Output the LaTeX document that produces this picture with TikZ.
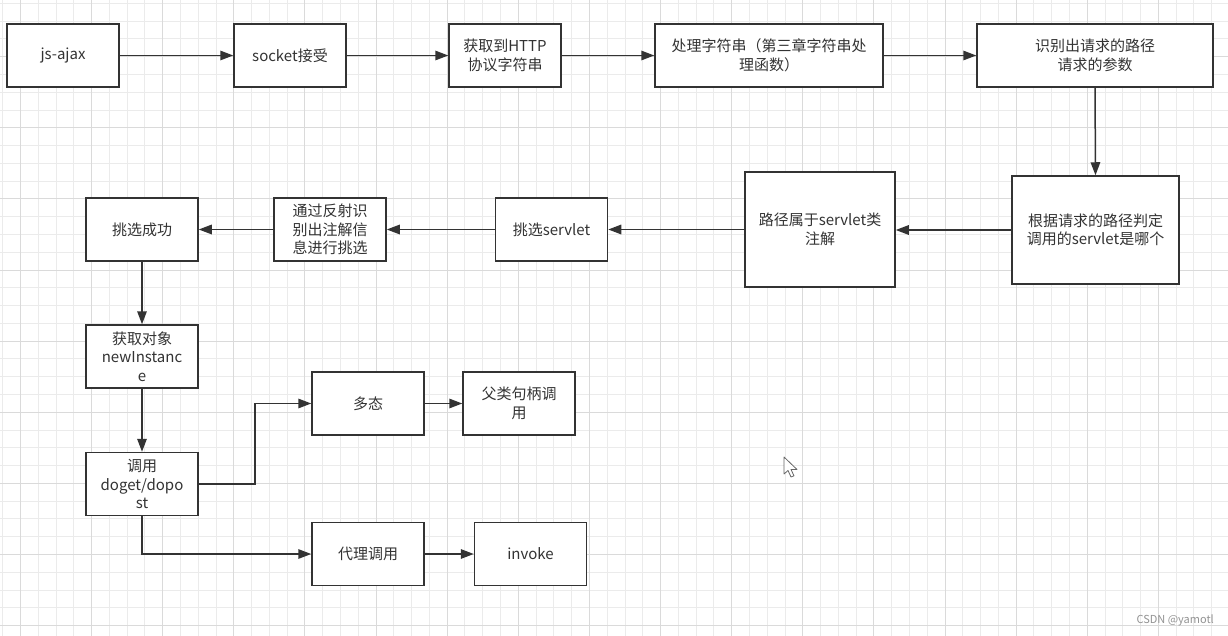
\documentclass[tikz,border=0pt]{standalone}
\usepackage{fontspec}
\setmainfont{Noto Sans CJK SC}
\usetikzlibrary{arrows.meta}
\definecolor{ink}{HTML}{333333}
\definecolor{gminor}{HTML}{EBEBEB}
\definecolor{gmajor}{HTML}{DADADA}
\tikzset{
  box/.style={draw=ink, line width=1.5pt, fill=white, text=ink, align=center,
    font=\fontsize{15}{18.5}\selectfont, inner sep=2pt},
  std/.style={box, minimum width=112pt, minimum height=63pt},
  conn/.style={draw=ink, line width=1.5pt, -{Triangle[length=13pt,width=9.5pt]}},
  minorline/.style={draw=gminor, line width=1pt},
  majorline/.style={draw=gmajor, line width=1pt}
}
\begin{document}
\begin{tikzpicture}[x=1pt,y=-1pt]
\useasboundingbox (0,0) rectangle (1228,636);
\fill[white] (0,0) rectangle (1228,636);
% grid
\foreach \k in {0,...,68}{
  \pgfmathsetmacro\xx{round(2.22+17.78*\k)+0.5}
  \draw[minorline] (\xx,0) -- (\xx,636);
}
\foreach \j in {0,...,35}{
  \pgfmathsetmacro\yy{round(2.88+17.78*\j)+0.5}
  \draw[minorline] (0,\yy) -- (1228,\yy);
}
\foreach \k in {1,5,...,65}{
  \pgfmathsetmacro\xx{round(2.22+17.78*\k)+0.5}
  \draw[majorline] (\xx,0) -- (\xx,636);
}
\foreach \j in {3,7,...,35}{
  \pgfmathsetmacro\yy{round(2.88+17.78*\j)+0.5}
  \draw[majorline] (0,\yy) -- (1228,\yy);
}
% nodes
\node[std] (n1) at (63,55.5) {js-ajax};
\node[std] (n2) at (290,55.5) {socket接受};
\node[std] (n3) at (505,55.5) {获取到HTTP\\协议字符串};
\node[box, minimum width=228pt, minimum height=63pt] (n4) at (769,55.5) {处理字符串（第三章字符串处\\理函数）};
\node[box, minimum width=236pt, minimum height=63pt] (n5) at (1095,55.5) {识别出请求的路径\\请求的参数};
\node[box, minimum width=167pt, minimum height=108pt] (n6) at (1095.5,230) {根据请求的路径判定\\调用的servlet是哪个};
\node[box, minimum width=150pt, minimum height=115pt] (n7) at (820,229.5) {路径属于servlet类\\注解};
\node[std] (n8) at (551.5,229.5) {挑选servlet};
\node[std] (n9) at (330,229.5) {通过反射识\\别出注解信\\息进行挑选};
\node[std] (n10) at (142,229.5) {挑选成功};
\node[std] (n11) at (142,356.5) {获取对象\\newInstanc\\e};
\node[std] (n12) at (142,484) {调用\\doget/dopo\\st};
\node[std] (n13) at (368,403.5) {多态};
\node[std] (n14) at (519,403.5) {父类句柄调\\用};
\node[std] (n15) at (368,554) {代理调用};
\node[std] (n16) at (530.5,554) {invoke};
% connectors
\draw[conn] (n1) -- (n2);
\draw[conn] (n2) -- (n3);
\draw[conn] (n3) -- (n4);
\draw[conn] (n4) -- (n5);
\draw[conn] (n5.south) -- (n6.north);
\draw[conn] (n6.west) -- (n6.west -| n7.east);
\draw[conn] (n7.west |- n8.east) -- (n8.east);
\draw[conn] (n8) -- (n9);
\draw[conn] (n9) -- (n10);
\draw[conn] (n10) -- (n11);
\draw[conn] (n11) -- (n12);
\coordinate (e1) at (255,484);
\draw[conn] (n12.east) -- (e1) |- (n13.west);
\draw[conn] (n12.south) |- (n15.west);
\draw[conn] (n13) -- (n14);
\draw[conn] (n15) -- (n16);
% mouse cursor
\draw[fill=white, draw=gray!80!black, line width=0.8pt, line join=round]
  (784,457) -- (784,474) -- (788,470.5) -- (791,477) -- (794,475.8) -- (791,469.5) -- (797,469.5) -- cycle;
% watermark
\node[text=gray!85, font=\fontsize{11}{12}\selectfont, anchor=east, inner sep=0pt] (wm) at (1214,620) {CSDN @yamotl};
\end{tikzpicture}
\end{document}
